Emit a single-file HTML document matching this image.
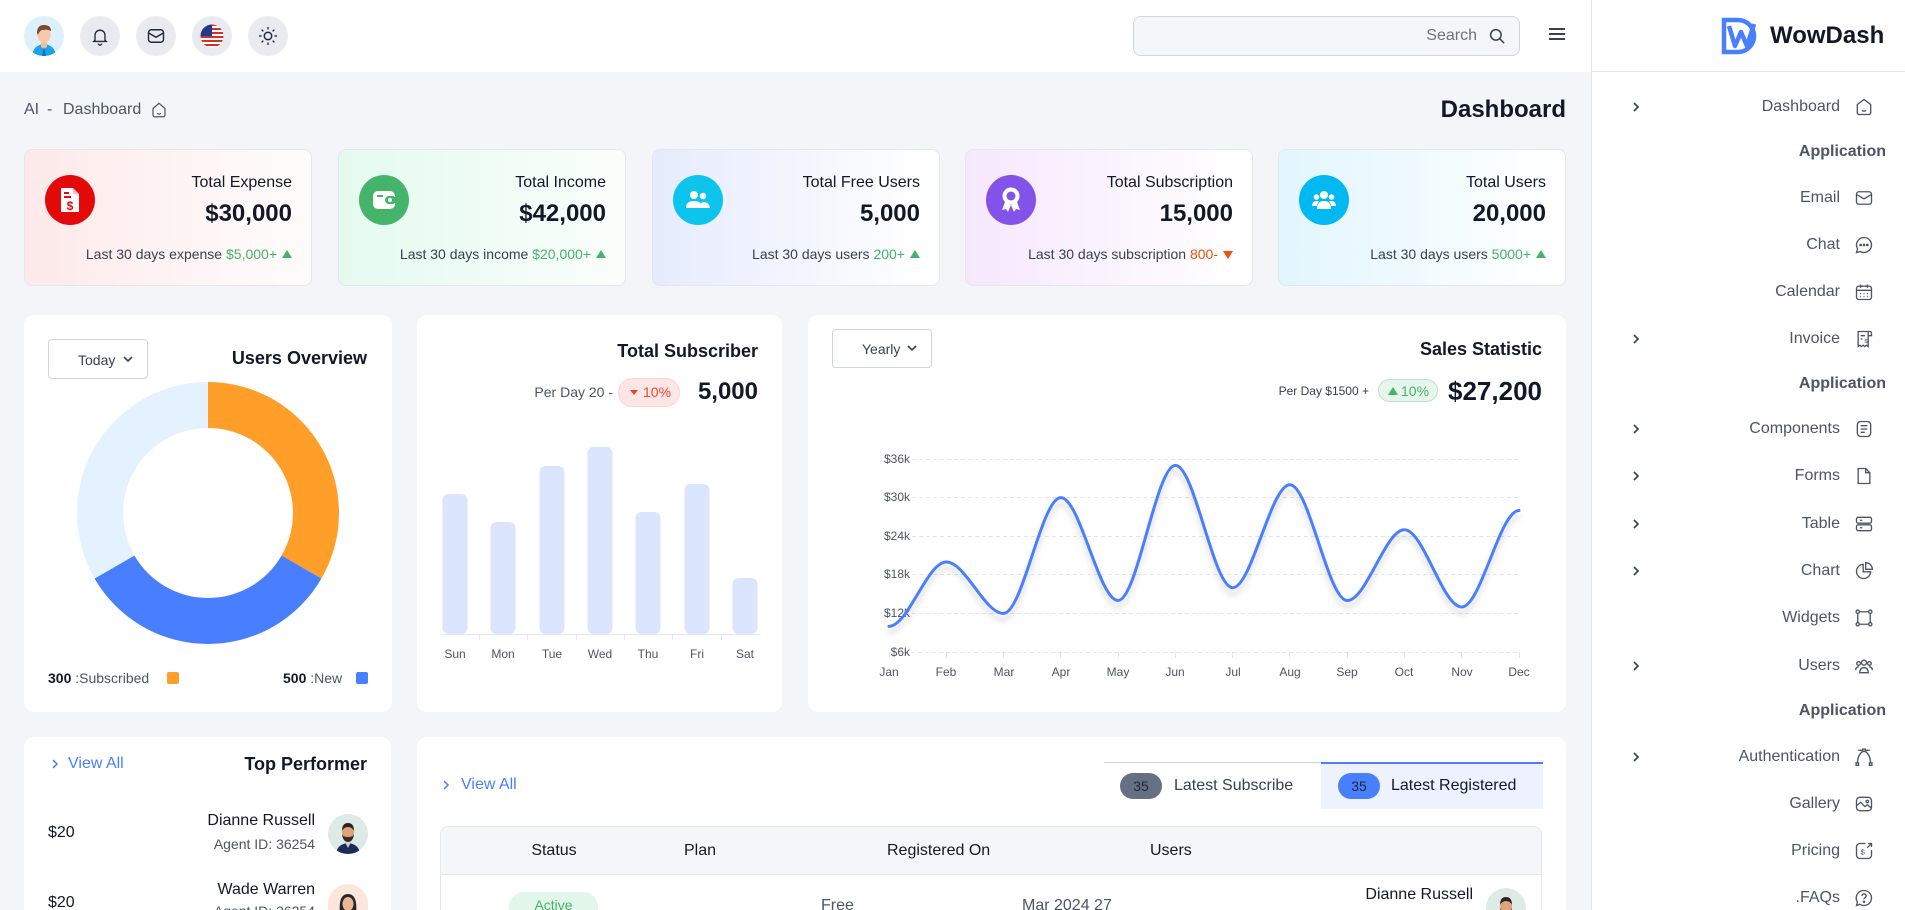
<!DOCTYPE html>
<html><head><meta charset="utf-8">
<style>
*{box-sizing:border-box;margin:0;padding:0}
html,body{width:1905px;height:910px;overflow:hidden}
body{background:#F4F5F9;font-family:"Liberation Sans",Arial,sans-serif;color:#111827}
#wrap{position:relative;width:1905px;height:910px;overflow:hidden}
.a{position:absolute}
.t{position:absolute;white-space:nowrap;line-height:1}
.circ{position:absolute;width:40px;height:40px;border-radius:50%;background:#E8EAEF;top:16px;display:flex;align-items:center;justify-content:center;overflow:hidden}
.card1{position:absolute;top:149px;width:288px;height:137px;border:1px solid #E4E7EC;border-radius:8px}
.ic{position:absolute;top:175px;width:50px;height:50px;border-radius:50%;display:flex;align-items:center;justify-content:center}
.ct{font-size:16px;color:#111827}
.cv{font-size:24px;font-weight:bold;color:#111827}
.cf{font-size:14px;color:#374151}
.up{display:inline-block;width:0;height:0;border-left:5px solid transparent;border-right:5px solid transparent;border-bottom:8px solid #45B369;margin-left:5px;vertical-align:1px}
.dn{display:inline-block;width:0;height:0;border-left:5px solid transparent;border-right:5px solid transparent;border-top:8px solid #F04E0A;margin-left:5px;vertical-align:0px}
.wc{position:absolute;background:#fff;border-radius:10px}
.si{font-size:16px;color:#4B5563;right:65px}
.sh{font-size:16px;color:#4B5563;font-weight:bold;right:19px}
.sic{position:absolute;left:1854px;width:20px;height:20px}
.chev{position:absolute;left:1630px;width:12px;height:12px}
</style></head>
<body>
<div id="wrap">

<!-- header -->
<div class="a" style="left:0;top:0;width:1591px;height:72px;background:#fff"></div>
<div class="circ" style="left:24px;background:#DDF0FB">
<svg width="40" height="40" viewBox="0 0 40 40"><path d="M8 40 Q9 29 20 28 Q31 29 32 40Z" fill="#1EA2E8"/><path d="M17 26h6v5l-3 2-3-2z" fill="#F2BFA0"/><ellipse cx="20" cy="19" rx="6.5" ry="8" fill="#F5C9AA"/><path d="M13 17 Q13 9 20 9 Q27 9 27 15 Q23 13 20 14 Q16 13 14 19Z" fill="#7A4A2A"/><path d="M20 31 l-2 9 h4z" fill="#0E6FB0"/></svg></div>
<div class="circ" style="left:80px"><svg width="20" height="20" viewBox="0 0 24 24" fill="none" stroke="#1f2937" stroke-width="1.6"><path d="M6 17V11a6 6 0 0 1 12 0v6l1.5 1.5h-15z"/><path d="M10 21a2 2 0 0 0 4 0"/></svg></div>
<div class="circ" style="left:136px"><svg width="20" height="20" viewBox="0 0 24 24" fill="none" stroke="#1f2937" stroke-width="1.7"><rect x="3" y="4.5" width="18" height="15" rx="3.5"/><path d="M3.5 8.5l8.5 5 8.5-5"/></svg></div>
<div class="circ" style="left:192px"><svg width="24" height="24" viewBox="0 0 24 24"><defs><clipPath id="fc"><circle cx="12" cy="12" r="11.5"/></clipPath></defs><g clip-path="url(#fc)"><rect width="24" height="24" fill="#fff"/><rect y="0" width="24" height="2" fill="#D22F27"/><rect y="4" width="24" height="2" fill="#D22F27"/><rect y="8" width="24" height="2" fill="#D22F27"/><rect y="12" width="24" height="2" fill="#D22F27"/><rect y="16" width="24" height="2" fill="#D22F27"/><rect y="20" width="24" height="2" fill="#D22F27"/><rect width="12" height="12" fill="#1E3A8A"/></g></svg></div>
<div class="circ" style="left:248px"><svg width="20" height="20" viewBox="0 0 24 24" fill="none" stroke="#1f2937" stroke-width="1.7" stroke-linecap="round"><circle cx="12" cy="12" r="4.5"/><path d="M12 2v1.5M12 20.5V22M2 12h1.5M20.5 12H22M4.9 4.9l1 1M18.1 18.1l1 1M4.9 19.1l1-1M18.1 5.9l1-1"/></svg></div>

<div class="a" style="left:1133px;top:16px;width:387px;height:40px;background:#F5F6FA;border:1px solid #D0D5DD;border-radius:8px"></div>
<div class="t" style="right:428px;top:28px;font-size:16px;line-height:16px;color:#6B7280">Search</div>
<svg class="a" style="left:1488px;top:27px" width="18" height="18" viewBox="0 0 24 24" fill="none" stroke="#374151" stroke-width="2" stroke-linecap="round"><circle cx="10.5" cy="10.5" r="7"/><path d="M16 16l5 5"/></svg>
<svg class="a" style="left:1548px;top:27px" width="18" height="14" viewBox="0 0 18 14" stroke="#374151" stroke-width="2"><path d="M1 2h16M1 7h16M1 12h16"/></svg>

<!-- breadcrumb -->
<div class="t" style="left:24px;top:102px;font-size:16px;color:#4B5563">AI</div>
<div class="t" style="left:47px;top:102px;font-size:16px;color:#4B5563">-</div>
<div class="t" style="left:63px;top:102px;font-size:16px;color:#4B5563">Dashboard</div>
<svg class="a" style="left:150px;top:101px" width="18" height="18" viewBox="0 0 24 24" fill="none" stroke="#4B5563" stroke-width="1.6"><path d="M4 10l8-7 8 7v9a2 2 0 0 1-2 2H6a2 2 0 0 1-2-2z"/><path d="M9.5 16.5q2.5 2 5 0"/></svg>
<div class="t" style="right:339px;top:98px;font-size:24px;font-weight:bold;color:#111827">Dashboard</div>

<!-- stat cards -->
<div class="card1" style="left:24px;background:linear-gradient(90deg,#FDE9E9,#FFFBFB 90%)"></div>
<div class="card1" style="left:338px;background:linear-gradient(90deg,#E4FAEF,#F9FEFB 90%)"></div>
<div class="card1" style="left:652px;background:linear-gradient(90deg,#E6EBFD,#FFFFFF 95%)"></div>
<div class="card1" style="left:965px;background:linear-gradient(90deg,#F6E7FD,#FFFFFF 95%)"></div>
<div class="card1" style="left:1278px;background:linear-gradient(90deg,#E1F6FD,#FFFFFF 95%)"></div>

<div class="ic" style="left:45px;background:#E30A0A"><svg width="24" height="28" viewBox="0 0 24 28"><path d="M3 2h12l6 6v18H3z" fill="#fff"/><path d="M15 2v6h6" fill="#E30A0A" opacity=".25"/><rect x="6" y="6" width="5" height="2" fill="#E30A0A"/><rect x="6" y="10" width="7" height="2" fill="#E30A0A"/><text x="12" y="24" font-size="12" font-weight="bold" fill="#E30A0A" text-anchor="middle" font-family="Liberation Sans">$</text></svg></div>
<div class="ic" style="left:359px;background:#45B369"><svg width="26" height="22" viewBox="0 0 26 22"><rect x="2" y="2" width="22" height="18" rx="5" fill="#fff"/><rect x="14" y="7" width="11" height="8" rx="4" fill="#45B369"/><circle cx="19" cy="11" r="2" fill="#fff"/><rect x="6" y="6" width="6" height="2" fill="#45B369"/></svg></div>
<div class="ic" style="left:673px;background:#0DC5EC"><svg width="26" height="22" viewBox="0 0 26 22" fill="#fff"><circle cx="9" cy="6" r="4"/><circle cx="18" cy="7" r="3.2"/><path d="M1 19q0-7 8-7t8 7z"/><path d="M15 19q0-5 3-6 6 0 7 6z"/></svg></div>
<div class="ic" style="left:986px;background:#8252E9"><svg width="22" height="28" viewBox="0 0 22 28" fill="#fff"><circle cx="11" cy="10" r="8.5"/><circle cx="11" cy="10" r="4.5" fill="#8252E9"/><path d="M5 16l-3 8 4-1 2 3 3-7zM17 16l3 8-4-1-2 3-3-7z"/></svg></div>
<div class="ic" style="left:1299px;background:#00B8F2"><svg width="26" height="22" viewBox="0 0 26 22" fill="#fff"><circle cx="13" cy="6" r="4"/><circle cx="5.5" cy="8" r="2.8"/><circle cx="20.5" cy="8" r="2.8"/><path d="M6 20q0-8 7-8t7 8z"/><path d="M1 17q0-5 4.5-5 1.5 0 2.5 .5-2 2-2 4.5z"/><path d="M25 17q0-5-4.5-5-1.5 0-2.5 .5 2 2 2 4.5z"/></svg></div>

<div class="t ct" style="right:1613px;top:175px">Total Expense</div>
<div class="t cv" style="right:1613px;top:202px">$30,000</div>
<div class="t cf" style="right:1613px;top:247px">Last 30 days expense <span style="color:#45B369">$5,000+</span><span class="up"></span></div>

<div class="t ct" style="right:1299px;top:175px">Total Income</div>
<div class="t cv" style="right:1299px;top:202px">$42,000</div>
<div class="t cf" style="right:1299px;top:247px">Last 30 days income <span style="color:#45B369">$20,000+</span><span class="up"></span></div>

<div class="t ct" style="right:985px;top:175px">Total Free Users</div>
<div class="t cv" style="right:985px;top:202px">5,000</div>
<div class="t cf" style="right:985px;top:247px">Last 30 days users <span style="color:#45B369">200+</span><span class="up"></span></div>

<div class="t ct" style="right:672px;top:175px">Total Subscription</div>
<div class="t cv" style="right:672px;top:202px">15,000</div>
<div class="t cf" style="right:672px;top:247px">Last 30 days subscription <span style="color:#F04E0A">800-</span><span class="dn"></span></div>

<div class="t ct" style="right:359px;top:175px">Total Users</div>
<div class="t cv" style="right:359px;top:202px">20,000</div>
<div class="t cf" style="right:359px;top:247px">Last 30 days users <span style="color:#45B369">5000+</span><span class="up"></span></div>

<!-- row 2 cards -->
<div class="wc" style="left:24px;top:315px;width:368px;height:397px"></div>
<div class="wc" style="left:417px;top:315px;width:365px;height:397px"></div>
<div class="wc" style="left:808px;top:315px;width:758px;height:397px"></div>

<!-- users overview -->
<div class="a" style="left:48px;top:339px;width:100px;height:40px;border:1px solid #D0D5DD;border-radius:4px"></div>
<div class="t" style="left:78px;top:353px;font-size:14px;color:#374151">Today</div>
<svg class="a" style="left:122px;top:354px" width="12" height="10" viewBox="0 0 12 10" fill="none" stroke="#374151" stroke-width="1.6"><path d="M2 3l4 4 4-4"/></svg>
<div class="t" style="right:1538px;top:349px;font-size:18px;font-weight:bold;color:#111827">Users Overview</div>
<div class="t" style="left:48px;top:671px;font-size:14px;color:#4B5563"><b style="color:#111827">300</b> :Subscribed</div>
<div class="a" style="left:167px;top:672px;width:12px;height:12px;background:#FF9F29;border-radius:2px"></div>
<div class="t" style="left:283px;top:671px;font-size:14px;color:#4B5563"><b style="color:#111827">500</b> :New</div>
<div class="a" style="left:356px;top:672px;width:12px;height:12px;background:#487FFF;border-radius:2px"></div>

<!-- total subscriber -->
<div class="t" style="right:1147px;top:342px;font-size:18px;font-weight:bold;color:#111827">Total Subscriber</div>
<div class="t" style="right:1292px;top:385px;font-size:14px;color:#4B5563">Per Day 20 -</div>
<div class="a" style="left:618px;top:378px;width:62px;height:29px;border-radius:15px;background:#FFE6E6;border:1px solid #FDD3D3"></div>
<div class="t" style="left:630px;top:385px;font-size:14px;color:#F0442A"><span style="display:inline-block;width:0;height:0;border-left:4px solid transparent;border-right:4px solid transparent;border-top:5px solid #F0442A;vertical-align:2px;margin-right:5px"></span>10%</div>
<div class="t" style="right:1147px;top:380px;font-size:24px;font-weight:bold;color:#111827">5,000</div>

<!-- sales statistic -->
<div class="a" style="left:832px;top:329px;width:100px;height:39px;border:1px solid #D0D5DD;border-radius:4px"></div>
<div class="t" style="left:862px;top:342px;font-size:14px;color:#374151">Yearly</div>
<svg class="a" style="left:906px;top:343px" width="12" height="10" viewBox="0 0 12 10" fill="none" stroke="#374151" stroke-width="1.6"><path d="M2 3l4 4 4-4"/></svg>
<div class="t" style="right:363px;top:340px;font-size:18px;font-weight:bold;color:#111827">Sales Statistic</div>
<div class="t" style="right:536px;top:385px;font-size:12px;color:#374151">Per Day $1500 +</div>
<div class="a" style="left:1378px;top:379px;width:60px;height:23px;border-radius:12px;background:#E6F6EC;border:1px solid #B9E4C8"></div>
<div class="t" style="left:1388px;top:384px;font-size:14px;color:#45B369"><span style="display:inline-block;width:0;height:0;border-left:5px solid transparent;border-right:5px solid transparent;border-bottom:8px solid #45B369;vertical-align:1px;margin-right:3px"></span>10%</div>
<div class="t" style="right:363px;top:378px;font-size:26px;font-weight:bold;color:#111827">$27,200</div>

<!-- row 3 -->
<div class="wc" style="left:24px;top:737px;width:367px;height:173px;border-radius:10px 10px 0 0"></div>
<div class="wc" style="left:417px;top:737px;width:1149px;height:173px;border-radius:10px 10px 0 0"></div>

<svg class="a" style="left:51px;top:758px" width="8" height="12" viewBox="0 0 8 12" fill="none" stroke="#487FFF" stroke-width="1.5"><path d="M2 2l4 4-4 4"/></svg>
<div class="t" style="left:68px;top:756px;font-size:16px;color:#487FFF">View All</div>
<div class="t" style="right:1538px;top:755px;font-size:18px;font-weight:bold;color:#111827">Top Performer</div>

<div class="t" style="left:48px;top:825px;font-size:16px;color:#111827">$20</div>
<div class="t" style="right:1590px;top:813px;font-size:16px;color:#111827">Dianne Russell</div>
<div class="t" style="right:1590px;top:837px;font-size:14px;color:#4B5563">Agent ID: 36254</div>
<div class="a" style="left:328px;top:814px;width:40px;height:40px;border-radius:50%;background:#DDEAE6;overflow:hidden"><svg width="40" height="40" viewBox="0 0 40 40"><path d="M8 40q1-10 12-11 11 1 12 11z" fill="#1E2A5A"/><path d="M17 28l3 6 3-6z" fill="#C9D4DC"/><ellipse cx="20" cy="19" rx="6" ry="7.5" fill="#E0A47C"/><path d="M14 20q1 8 6 8 5 0 6-8-1 3-6 3-5 0-6-3z" fill="#3A2A22"/><path d="M14 17q0-8 6-8 6 0 6 8-2-4-6-4-4 0-6 4z" fill="#2A2522"/></svg></div>

<div class="t" style="left:48px;top:895px;font-size:16px;color:#111827">$20</div>
<div class="t" style="right:1590px;top:882px;font-size:16px;color:#111827">Wade Warren</div>
<div class="t" style="right:1590px;top:904px;font-size:14px;color:#4B5563">Agent ID: 36254</div>
<div class="a" style="left:328px;top:884px;width:40px;height:26px;border-radius:20px 20px 0 0;background:#FDE6DC;overflow:hidden"><svg width="40" height="40" viewBox="0 0 40 40"><path d="M12 30q-2-20 8-20 10 0 8 20z" fill="#2A2522"/><ellipse cx="20" cy="20" rx="5.5" ry="7" fill="#E9B896"/></svg></div>

<!-- table card -->
<svg class="a" style="left:442px;top:779px" width="8" height="12" viewBox="0 0 8 12" fill="none" stroke="#487FFF" stroke-width="1.5"><path d="M2 2l4 4-4 4"/></svg>
<div class="t" style="left:461px;top:777px;font-size:16px;color:#487FFF">View All</div>
<div class="a" style="left:1104px;top:762px;width:439px;height:1px;background:#D0D5DD"></div>
<div class="a" style="left:1321px;top:762px;width:222px;height:47px;background:#EDF2FE;border-top:2px solid #487FFF"></div>
<div class="a" style="left:1120px;top:773px;width:42px;height:26px;border-radius:13px;background:#667085"></div>
<div class="t" style="left:1120px;width:42px;text-align:center;top:779px;font-size:14px;color:#1D2939">35</div>
<div class="t" style="left:1174px;top:778px;font-size:16px;color:#374151">Latest Subscribe</div>
<div class="a" style="left:1338px;top:773px;width:42px;height:26px;border-radius:13px;background:#487FFF"></div>
<div class="t" style="left:1338px;width:42px;text-align:center;top:779px;font-size:14px;color:#1D2939">35</div>
<div class="t" style="left:1391px;top:778px;font-size:16px;color:#111827">Latest Registered</div>

<div class="a" style="left:440px;top:826px;width:1102px;height:84px;border:1px solid #E5E7EB;border-bottom:none;border-radius:8px 8px 0 0;overflow:hidden"><div style="height:48px;background:#F5F6FA;border-bottom:1px solid #E5E7EB"></div></div>
<div class="t" style="left:504px;width:100px;text-align:center;top:843px;font-size:16px;color:#111827">Status</div>
<div class="t" style="left:684px;top:843px;font-size:16px;color:#111827">Plan</div>
<div class="t" style="left:887px;top:843px;font-size:16px;color:#111827">Registered On</div>
<div class="t" style="left:1150px;top:843px;font-size:16px;color:#111827">Users</div>
<div class="a" style="left:509px;top:892px;width:89px;height:18px;border-radius:15px 15px 0 0;background:#E3F6EA"></div>
<div class="t" style="left:509px;width:89px;text-align:center;top:898px;font-size:14px;color:#45B369">Active</div>
<div class="t" style="left:821px;top:898px;font-size:16px;color:#4B5563">Free</div>
<div class="t" style="left:1022px;top:898px;font-size:16px;color:#4B5563">Mar 2024 27</div>
<div class="t" style="right:432px;top:887px;font-size:16px;color:#111827">Dianne Russell</div>
<div class="a" style="left:1486px;top:888px;width:40px;height:22px;border-radius:20px 20px 0 0;background:#DDEAE6;overflow:hidden"><svg width="40" height="40" viewBox="0 0 40 40"><path d="M8 40q1-10 12-11 11 1 12 11z" fill="#1E2A5A"/><ellipse cx="20" cy="19" rx="6" ry="7.5" fill="#E0A47C"/><path d="M14 20q1 8 6 8 5 0 6-8-1 3-6 3-5 0-6-3z" fill="#3A2A22"/><path d="M14 17q0-8 6-8 6 0 6 8-2-4-6-4-4 0-6 4z" fill="#2A2522"/></svg></div>

<!-- charts overlay -->
<svg class="a" style="left:0;top:0" width="1905" height="910" font-family="Liberation Sans, Arial, sans-serif">
<defs><filter id="sh" x="-5%" y="-20%" width="110%" height="150%"><feDropShadow dx="0" dy="6" stdDeviation="3" flood-color="#000" flood-opacity="0.16"/></filter></defs>
<path d="M208 382 A131 131 0 0 1 321.45 578.5 L281.61 555.5 A85 85 0 0 0 208 428 Z" fill="#FF9F29"/>
<path d="M321.45 578.5 A131 131 0 0 1 94.55 578.5 L134.39 555.5 A85 85 0 0 0 281.61 555.5 Z" fill="#487FFF"/>
<path d="M94.55 578.5 A131 131 0 0 1 208 382 L208 428 A85 85 0 0 0 134.39 555.5 Z" fill="#E4F1FF"/>
<g fill="#DBE5FD">
<rect x="442.5" y="494" width="25" height="140" rx="6"/>
<rect x="490.5" y="522" width="25" height="112" rx="6"/>
<rect x="539.5" y="466" width="25" height="168" rx="6"/>
<rect x="587.5" y="447" width="25" height="187" rx="6"/>
<rect x="635.5" y="512" width="25" height="122" rx="6"/>
<rect x="684.5" y="484" width="25" height="150" rx="6"/>
<rect x="732.5" y="578" width="25" height="56" rx="6"/>
</g>
<path d="M442 634.5H759" stroke="#E5E7EB" stroke-width="1"/>
<path d="M479.5 634v6M527.5 634v6M576.5 634v6M624.5 634v6M672.5 634v6M721.5 634v6" stroke="#E5E7EB" stroke-width="1"/>
<g font-size="12" fill="#4B5563" text-anchor="middle">
<text x="455" y="658">Sun</text><text x="503" y="658">Mon</text><text x="552" y="658">Tue</text><text x="600" y="658">Wed</text><text x="648" y="658">Thu</text><text x="697" y="658">Fri</text><text x="745" y="658">Sat</text>
</g>
<g stroke="#E2E4E9" stroke-width="1" stroke-dasharray="4 3">
<path d="M912 459.5H1519M912 497.5H1519M912 536.5H1519M912 574.5H1519M912 613.5H1519M904 652.5H1519"/>
</g>
<path d="M889.5 652v6M946.5 652v6M1003.5 652v6M1060.5 652v6M1118.5 652v6M1175.5 652v6M1232.5 652v6M1289.5 652v6M1347.5 652v6M1404.5 652v6M1461.5 652v6M1519.5 652v6" stroke="#E2E4E9" stroke-width="1"/>
<g font-size="12" fill="#4B5563" text-anchor="end">
<text x="910" y="463">$36k</text><text x="910" y="501">$30k</text><text x="910" y="540">$24k</text><text x="910" y="578">$18k</text><text x="910" y="617">$12k</text><text x="910" y="656">$6k</text>
</g>
<g font-size="12" fill="#4B5563" text-anchor="middle">
<text x="889" y="676">Jan</text><text x="946" y="676">Feb</text><text x="1004" y="676">Mar</text><text x="1061" y="676">Apr</text><text x="1118" y="676">May</text><text x="1175" y="676">Jun</text><text x="1233" y="676">Jul</text><text x="1290" y="676">Aug</text><text x="1347" y="676">Sep</text><text x="1404" y="676">Oct</text><text x="1462" y="676">Nov</text><text x="1519" y="676">Dec</text>
</g>
<path filter="url(#sh)" fill="none" stroke="#487FFF" stroke-width="3" stroke-linecap="round" d="M889 626.3 C908.1 626.3 927.2 562 946.3 562 C965.4 562 984.4 613.4 1003.5 613.4 C1022.6 613.4 1041.7 497.6 1060.8 497.6 C1079.9 497.6 1099 600.5 1118.1 600.5 C1137.2 600.5 1156.3 465.4 1175.4 465.4 C1194.5 465.4 1213.5 587.7 1232.6 587.7 C1251.7 587.7 1270.8 484.7 1289.9 484.7 C1309 484.7 1328.1 600.5 1347.2 600.5 C1366.3 600.5 1385.3 529.8 1404.4 529.8 C1423.5 529.8 1442.6 607 1461.7 607 C1480.8 607 1499.9 510.5 1519 510.5"/>
</svg>

<!-- sidebar -->
<div class="a" style="left:1591px;top:0;width:314px;height:910px;background:#fff;border-left:1px solid #E5E7EB"></div>
<div class="a" style="left:1591px;top:71px;width:314px;height:1px;background:#E5E7EB"></div>
<svg class="a" style="left:1721px;top:17px" width="40" height="38" viewBox="0 0 40 38"><path d="M3 3h14a16 16 0 0 1 0 32H3z" fill="none" stroke="#487FFF" stroke-width="4.5"/><path d="M8 9l6 20 6-14 6 14 7-22" fill="none" stroke="#487FFF" stroke-width="4.5" stroke-linejoin="round"/></svg>
<div class="t" style="left:1770px;top:24px;font-size:24px;font-weight:bold;color:#111827">WowDash</div>

<div class="t si" style="top:99px">Dashboard</div>
<div class="t sh" style="top:144px">Application</div>
<div class="t si" style="top:190px">Email</div>
<div class="t si" style="top:237px">Chat</div>
<div class="t si" style="top:284px">Calendar</div>
<div class="t si" style="top:331px">Invoice</div>
<div class="t sh" style="top:376px">Application</div>
<div class="t si" style="top:421px">Components</div>
<div class="t si" style="top:468px">Forms</div>
<div class="t si" style="top:516px">Table</div>
<div class="t si" style="top:563px">Chart</div>
<div class="t si" style="top:610px">Widgets</div>
<div class="t si" style="top:658px">Users</div>
<div class="t sh" style="top:703px">Application</div>
<div class="t si" style="top:749px">Authentication</div>
<div class="t si" style="top:796px">Gallery</div>
<div class="t si" style="top:843px">Pricing</div>
<div class="t si" style="top:890px">.FAQs</div>

<svg class="chev" style="top:101px" viewBox="0 0 12 12" fill="none" stroke="#374151" stroke-width="1.6"><path d="M4 2l4 4-4 4"/></svg>
<svg class="chev" style="top:333px" viewBox="0 0 12 12" fill="none" stroke="#374151" stroke-width="1.6"><path d="M4 2l4 4-4 4"/></svg>
<svg class="chev" style="top:423px" viewBox="0 0 12 12" fill="none" stroke="#374151" stroke-width="1.6"><path d="M4 2l4 4-4 4"/></svg>
<svg class="chev" style="top:470px" viewBox="0 0 12 12" fill="none" stroke="#374151" stroke-width="1.6"><path d="M4 2l4 4-4 4"/></svg>
<svg class="chev" style="top:518px" viewBox="0 0 12 12" fill="none" stroke="#374151" stroke-width="1.6"><path d="M4 2l4 4-4 4"/></svg>
<svg class="chev" style="top:565px" viewBox="0 0 12 12" fill="none" stroke="#374151" stroke-width="1.6"><path d="M4 2l4 4-4 4"/></svg>
<svg class="chev" style="top:660px" viewBox="0 0 12 12" fill="none" stroke="#374151" stroke-width="1.6"><path d="M4 2l4 4-4 4"/></svg>
<svg class="chev" style="top:751px" viewBox="0 0 12 12" fill="none" stroke="#374151" stroke-width="1.6"><path d="M4 2l4 4-4 4"/></svg>

<svg class="sic" style="top:97px" viewBox="0 0 24 24" fill="none" stroke="#4B5563" stroke-width="1.6"><path d="M4 9l8-6 8 6v10a2 2 0 0 1-2 2H6a2 2 0 0 1-2-2z"/><path d="M9.5 16q2.5 2 5 0"/></svg>
<svg class="sic" style="top:188px" viewBox="0 0 24 24" fill="none" stroke="#4B5563" stroke-width="1.6"><rect x="3" y="4.5" width="18" height="15" rx="3"/><path d="M3.5 8l8.5 5 8.5-5"/></svg>
<svg class="sic" style="top:235px" viewBox="0 0 24 24" fill="none" stroke="#4B5563" stroke-width="1.6"><path d="M12 3a9 9 0 1 1-4.5 16.8L3 21l1.3-4.4A9 9 0 0 1 12 3z"/><circle cx="8" cy="12" r=".8" fill="#4B5563"/><circle cx="12" cy="12" r=".8" fill="#4B5563"/><circle cx="16" cy="12" r=".8" fill="#4B5563"/></svg>
<svg class="sic" style="top:282px" viewBox="0 0 24 24" fill="none" stroke="#4B5563" stroke-width="1.6"><rect x="3" y="5" width="18" height="16" rx="3"/><path d="M3 10h18M8 3v4M16 3v4"/><path d="M7.5 14h1M11.5 14h1M15.5 14h1M7.5 17.5h1M11.5 17.5h1M15.5 17.5h1"/></svg>
<svg class="sic" style="top:329px" viewBox="0 0 24 24" fill="none" stroke="#4B5563" stroke-width="1.6"><path d="M5 3h12v18l-2-1.5-2 1.5-2-1.5-2 1.5-2-1.5-2 1.5z"/><path d="M17 3h2a2 2 0 0 1 2 2v3h-4"/><path d="M8 8h5M8 12h2"/><text x="12.5" y="17" font-size="7" fill="#4B5563" stroke="none" font-family="Liberation Sans">$</text></svg>
<svg class="sic" style="top:419px" viewBox="0 0 24 24" fill="none" stroke="#4B5563" stroke-width="1.6"><rect x="4" y="3" width="16" height="18" rx="4"/><path d="M8 8h8M8 12h8M8 16h5"/></svg>
<svg class="sic" style="top:466px" viewBox="0 0 24 24" fill="none" stroke="#4B5563" stroke-width="1.6"><path d="M5 3h9l5 5v13H5z"/><path d="M14 3v5h5"/></svg>
<svg class="sic" style="top:514px" viewBox="0 0 24 24" fill="none" stroke="#4B5563" stroke-width="1.6"><rect x="3" y="4" width="18" height="7" rx="2"/><rect x="3" y="13" width="18" height="7" rx="2"/><path d="M7 7.5h3M7 16.5h3"/></svg>
<svg class="sic" style="top:561px" viewBox="0 0 24 24" fill="none" stroke="#4B5563" stroke-width="1.6"><path d="M11 4a8.5 8.5 0 1 0 9 9h-9z"/><path d="M14 2a8 8 0 0 1 8 8h-8z"/></svg>
<svg class="sic" style="top:608px" viewBox="0 0 24 24" fill="none" stroke="#4B5563" stroke-width="1.6"><circle cx="4.5" cy="4.5" r="2"/><circle cx="19.5" cy="4.5" r="2"/><circle cx="4.5" cy="19.5" r="2"/><circle cx="19.5" cy="19.5" r="2"/><path d="M6.5 4.5h11M6.5 19.5h11M4.5 6.5v11M19.5 6.5v11"/></svg>
<svg class="sic" style="top:656px" viewBox="0 0 24 24" fill="none" stroke="#4B5563" stroke-width="1.6"><circle cx="12" cy="8" r="3"/><circle cx="5.5" cy="9" r="2.2"/><circle cx="18.5" cy="9" r="2.2"/><path d="M7 20q0-6 5-6t5 6z"/><path d="M2 17q0-4 4-4M22 17q0-4-4-4"/></svg>
<svg class="sic" style="top:747px" viewBox="0 0 24 24" fill="none" stroke="#4B5563" stroke-width="1.6"><rect x="10.5" y="2.5" width="3" height="3"/><path d="M10.5 4H5M13.5 4H19"/><path d="M4 20q0-10 6.5-15M20 20q0-10-6.5-15"/><rect x="2.5" y="19" width="3" height="3"/><rect x="18.5" y="19" width="3" height="3"/></svg>
<svg class="sic" style="top:794px" viewBox="0 0 24 24" fill="none" stroke="#4B5563" stroke-width="1.6"><rect x="3" y="4" width="18" height="16" rx="4"/><path d="M3 14l5-4 5 5 3-2 5 4"/><circle cx="16" cy="9" r="1.5"/></svg>
<svg class="sic" style="top:841px" viewBox="0 0 24 24" fill="none" stroke="#4B5563" stroke-width="1.6"><path d="M14 3H7a4 4 0 0 0-4 4v10a4 4 0 0 0 4 4h10a4 4 0 0 0 4-4v-6"/><path d="M17 3h4v4M21 3l-5 5"/><text x="8" y="16" font-size="9" fill="#4B5563" stroke="none" font-family="Liberation Sans">$</text></svg>
<svg class="sic" style="top:888px" viewBox="0 0 24 24" fill="none" stroke="#4B5563" stroke-width="1.6"><path d="M12 3a9 9 0 1 1-5 16.5L3 21l1.2-4A9 9 0 0 1 12 3z"/><path d="M9.5 9.5a2.5 2.5 0 1 1 3.5 2.3c-.7.3-1 .9-1 1.7"/><circle cx="12" cy="16.5" r=".7" fill="#4B5563"/></svg>

</div>
</body></html>
